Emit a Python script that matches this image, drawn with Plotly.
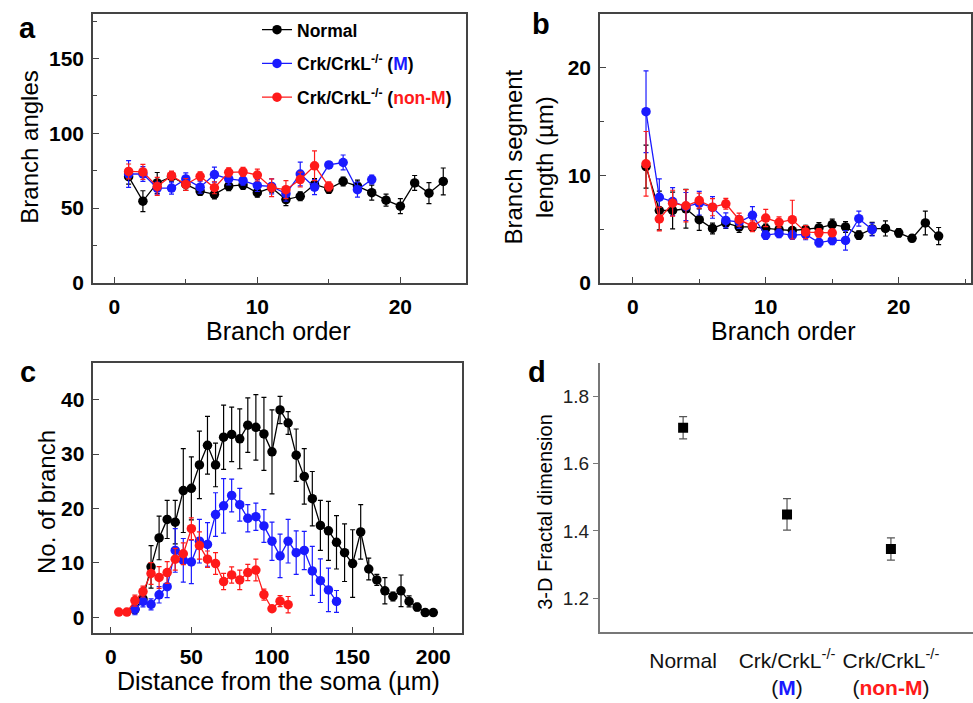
import plotly.graph_objects as go

W, H = 973, 703
FONT = "Arial, Liberation Sans, sans-serif"

# ---------------- data ----------------
# Panel a: branch angles vs branch order
a_norm_x = list(range(1, 24))
a_norm_y = [71, 54.6, 66.8, 71, 65.8, 61.4, 59.2, 64.7, 65.5, 60.3, 63.6, 55.7, 57.9, 65.8,
            62.9, 67.8, 64.7, 60.3, 55.3, 51.3, 66.8, 60, 67.8]
a_norm_e = [5, 7, 7, 3, 4, 3, 3, 3, 3, 3, 3, 4, 3, 4, 3, 3, 4, 5, 4, 5, 5, 7, 9]
a_m_x = list(range(1, 19))
a_m_y = [72.8, 72.8, 63.4, 63.4, 69.5, 64, 72.4, 69.5, 68.4, 65.1, 64.5, 59.6, 72.8, 64,
         78.9, 80.5, 62.3, 69.1]
a_m_e = [9, 5, 4, 4, 4, 4, 5, 4, 3, 4, 5, 5, 8, 5, 2, 5, 5, 3]
a_nm_x = list(range(1, 16))
a_nm_y = [74.5, 74.2, 64.5, 71.7, 65.8, 71.3, 63.6, 73.9, 74.2, 72.1, 63.6, 62.3, 69.1, 78.3, 64.5]
a_nm_e = [5, 5, 6, 3, 4, 3, 4, 3, 3, 4, 6, 6, 5, 10, 3]

# Panel b: branch segment length vs branch order
b_norm_x = list(range(1, 24))
b_norm_y = [10.8, 6.72, 6.72, 6.88, 5.87, 5.05, 5.56, 5.19, 5.19, 5.05, 4.95, 4.86, 4.95, 5.1,
            5.41, 5.19, 4.43, 5.01, 5.05, 4.64, 4.13, 5.56, 4.34]
b_norm_e = [2, 1.8, 1.7, 1.8, 1, 0.5, 0.5, 0.5, 0.4, 0.4, 0.4, 0.3, 0.4, 0.5, 0.5, 0.5, 0.4,
            0.6, 0.7, 0.4, 0.3, 1.1, 0.8]
b_m_x = list(range(1, 19))
b_m_y = [15.9, 7.95, 7.55, 7.09, 7.4, 7.0, 5.8, 5.65, 6.27, 4.43, 4.59, 4.43, 4.5, 3.73, 3.94,
         3.94, 5.96, 4.95]
b_m_e = [3.8, 1.7, 1.3, 1.3, 1.1, 1, 0.7, 0.6, 0.8, 0.4, 0.4, 0.4, 0.5, 0.4, 0.4, 0.9, 0.7, 0.6]
b_nm_x = list(range(1, 16))
b_nm_y = [11.06, 5.93, 7.4, 7.16, 7.64, 7.03, 7.34, 5.87, 5.26, 6.02, 5.62, 5.87, 4.71, 4.64, 4.64]
b_nm_e = [3, 1.1, 1.2, 1.5, 0.7, 0.8, 0.5, 0.6, 0.5, 0.8, 0.5, 1.8, 0.6, 0.4, 0.3]

# Panel c: number of branches vs distance from soma
c_norm_x = list(range(15, 205, 5))
c_norm_y = [1.5, 3.4, 9.3, 14.6, 18, 17.5, 23.3, 23.7, 28, 31.6, 28, 33.1, 33.6, 32.8, 35.3,
            34.9, 33.7, 30.4, 38.1, 35.7, 29.8, 25.9, 21.8, 16.9, 15.9, 13.8, 11.9, 9.9, 15.7,
            8.9, 6.9, 4.9, 3.85, 4.9, 2.95, 1.9, 0.9, 0.9]
c_norm_e = [0.8, 1, 3.9, 4, 3.5, 4, 7.7, 5.8, 6.2, 5.3, 4, 5.9, 5, 5.5, 5, 6, 6.7, 7.7, 2.5,
            2.1, 4.8, 5.1, 5, 4.6, 5.4, 4.9, 5.3, 6.2, 5, 2, 1, 2.4, 0.8, 2.9, 1, 0.7, 0.6, 0.3]
c_m_x = list(range(15, 145, 5))
c_m_y = [1.5, 2.95, 2.4, 4.16, 5.66, 12.3, 10.5, 10.2, 14, 13.4, 18.9, 20.5, 22.4, 20.7, 18.2,
         18.5, 16.8, 14, 11.3, 14, 11.9, 12.3, 8.55, 6.75, 5.06, 2.95]
c_m_e = [1, 1, 1, 1.5, 2, 4, 4, 4, 4, 4, 4, 5, 3, 3, 2.5, 2.5, 3, 3.5, 4, 4, 4, 3.5, 4.5, 4, 4, 2]
c_nm_x = list(range(5, 115, 5))
c_nm_y = [1, 1, 3.1, 4.76, 8.07, 7.35, 8.25, 10.7, 11.7, 16.3, 13.2, 10.7, 9.9, 6.6, 7.8, 6.9,
          8.25, 8.7, 4.2, 1.6, 3.0, 2.35]
c_nm_e = [0, 0, 1, 1, 2, 2, 2, 2, 2, 2, 2.5, 1.5, 2, 1.5, 1.5, 1.8, 1.5, 2, 1, 0.5, 1, 1.5]

# Panel d: 3-D fractal dimension
d_groups = [0, 1, 2]
d_labels = ["Normal",
            "Crk/CrkL<sup>-/-</sup><br>(<b><span style='color:#1a1aff'>M</span></b>)",
            "Crk/CrkL<sup>-/-</sup><br>(<b><span style='color:#ff1a1a'>non-M</span></b>)"]
d_vals = [1.707, 1.449, 1.346]
d_errs = [0.033, 0.047, 0.033]

series_names = ["<b>Normal</b>",
                "<b>Crk/CrkL<sup>-/-</sup> (<span style='color:#1a1aff'>M</span>)</b>",
                "<b>Crk/CrkL<sup>-/-</sup> (<span style='color:#ff1a1a'>non-M</span>)</b>"]
colors = ["#000000", "#1a1aff", "#ff1a1a"]

# ---------------- figure ----------------
fig = go.Figure()


def xd(l, r):
    return [l / W, r / W]


def yd(top, bottom):
    return [1 - bottom / H, 1 - top / H]


def add_series(xs, ys, es, color, name, xa, ya, showlegend):
    fig.add_trace(go.Scatter(
        x=xs, y=ys, mode="lines+markers", name=name, showlegend=showlegend,
        legendgroup=name,
        line=dict(color=color, width=1.3),
        marker=dict(color=color, size=9.5, symbol="circle"),
        error_y=dict(type="data", array=es, visible=True, color=color, thickness=1.2, width=2.5),
        xaxis=xa, yaxis=ya))


panels = [
    ("x", "y", [(a_norm_x, a_norm_y, a_norm_e), (a_m_x, a_m_y, a_m_e), (a_nm_x, a_nm_y, a_nm_e)], True),
    ("x2", "y2", [(b_norm_x, b_norm_y, b_norm_e), (b_m_x, b_m_y, b_m_e), (b_nm_x, b_nm_y, b_nm_e)], False),
    ("x3", "y3", [(c_norm_x, c_norm_y, c_norm_e), (c_m_x, c_m_y, c_m_e), (c_nm_x, c_nm_y, c_nm_e)], False),
]
for xa, ya, sets, leg in panels:
    for (xs, ys, es), col, nm in zip(sets, colors, series_names):
        add_series(xs, ys, es, col, nm, xa, ya, leg)

fig.add_trace(go.Scatter(
    x=d_groups, y=d_vals, mode="markers", showlegend=False,
    marker=dict(color="black", size=10, symbol="square"),
    error_y=dict(type="data", array=d_errs, visible=True, color="#555555", thickness=1.2, width=4),
    xaxis="x4", yaxis="y4"))

frame = dict(showline=True, linecolor="#444444", linewidth=1.5, mirror=True,
             ticks="inside", ticklen=6, tickwidth=1.2, tickcolor="#444444",
             showgrid=False, zeroline=False,
             tickfont=dict(family=FONT, size=21, color="black", weight="bold"))
xframe = dict(frame, ticklabelstandoff=4)
yframe = dict(frame, ticklabelstandoff=3)

fig.update_layout(
    width=W, height=H, autosize=False,
    margin=dict(l=0, r=0, t=0, b=0),
    paper_bgcolor="white", plot_bgcolor="white",
    font=dict(family=FONT, color="black"),
    showlegend=True,
    legend=dict(x=257 / W, y=1 - 12 / H, xanchor="left", yanchor="top",
                bgcolor="rgba(0,0,0,0)", traceorder="grouped", tracegroupgap=8,
                font=dict(family=FONT, size=17.5, color="black")),
    xaxis=dict(domain=xd(93, 466), range=[-1.49, 24.59], tickvals=[0, 10, 20],
               minor=dict(dtick=5, tick0=0, ticks="inside", ticklen=4, tickcolor="#444444"),
               anchor="y", **xframe),
    yaxis=dict(domain=yd(14, 287.3), range=[0, 180], tickvals=[0, 50, 100, 150],
               minor=dict(dtick=25, tick0=0, ticks="inside", ticklen=4, tickcolor="#444444"),
               anchor="x", **yframe),
    xaxis2=dict(domain=xd(600, 970.7), range=[-2.46, 25.41], tickvals=[0, 10, 20],
                minor=dict(dtick=5, tick0=0, ticks="inside", ticklen=4, tickcolor="#444444"),
                anchor="y2", **xframe),
    yaxis2=dict(domain=yd(14, 287.3), range=[0, 25], tickvals=[0, 10, 20],
                minor=dict(dtick=5, tick0=0, ticks="inside", ticklen=4, tickcolor="#444444"),
                anchor="x2", **yframe),
    xaxis3=dict(domain=xd(93.3, 462.3), range=[-10.8, 218], tickvals=[0, 50, 100, 150, 200],
                anchor="y3", **xframe),
    yaxis3=dict(domain=yd(368.3, 643), range=[-2.84, 46.8], tickvals=[0, 10, 20, 30, 40],
                anchor="x3", **yframe),
    xaxis4=dict(domain=xd(600, 973), range=[-0.8, 2.79], tickvals=d_groups, ticktext=d_labels,
                showline=True, linecolor="#777777", linewidth=2, ticks="", showgrid=False,
                zeroline=False, anchor="y4", ticklabelstandoff=9,
                tickfont=dict(family=FONT, size=21, color="#111111")),
    yaxis4=dict(domain=yd(368.7, 641.7), range=[1.1, 1.9], tickvals=[1.2, 1.4, 1.6, 1.8],
                tickformat=".1f",
                showline=True, linecolor="#777777", linewidth=2, ticks="outside", ticklen=5,
                tickcolor="#777777", showgrid=False, zeroline=False, anchor="x4",
                tickfont=dict(family=FONT, size=19, color="#222222")),
)

titles = [
    ("Branch angles", 30, 150, -90, 24),
    ("Branch order", 278, 336, 0, 25),
    ("Branch segment<br>length (µm)", 529, 160, -90, 24),
    ("Branch order", 783, 336, 0, 25),
    ("No. of branch", 46, 510, -90, 24),
    ("Distance from the soma (µm)", 278, 692, 0, 25),
    ("3-D Fractal dimension", 545, 520, -90, 20),
]
for txt, px, py, ang, sz in titles:
    fig.add_annotation(text=txt, x=px / W, y=1 - py / H, xref="paper", yref="paper",
                       showarrow=False, textangle=ang, xanchor="center", yanchor="middle",
                       font=dict(family=FONT, size=sz, color="black"))

for lab, px, py in [("a", 27, 28), ("b", 541, 24), ("c", 28, 378), ("d", 537, 378)]:
    fig.add_annotation(text="<b>%s</b>" % lab, x=px / W, y=1 - py / H, xref="paper", yref="paper",
                       showarrow=False, xanchor="center", yanchor="middle",
                       font=dict(family=FONT, size=29, color="black"))

fig.write_html("out.html", config={"displayModeBar": False},
               post_script="document.body.style.margin='0px';")
